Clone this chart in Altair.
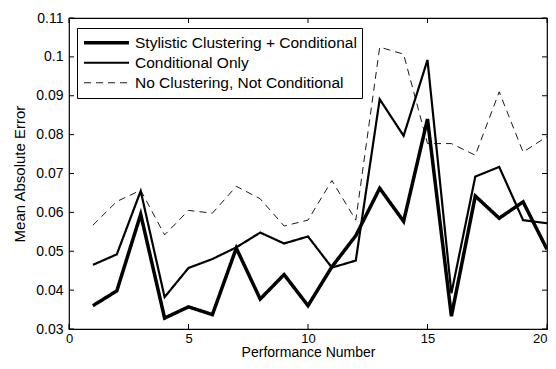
import altair as alt
import pandas as pd

performance = list(range(1, 21))
stylistic = [0.0360, 0.0398, 0.0595, 0.0328, 0.0357, 0.0337, 0.0508, 0.0377, 0.0440, 0.0360,
             0.0460, 0.0540, 0.0662, 0.0577, 0.0840, 0.0333, 0.0642, 0.0585, 0.0627, 0.0505]
conditional = [0.0465, 0.0492, 0.0655, 0.0382, 0.0457, 0.0480, 0.0510, 0.0548, 0.0520, 0.0538,
               0.0458, 0.0476, 0.0891, 0.0797, 0.0992, 0.0392, 0.0692, 0.0717, 0.0580, 0.0572]
no_cluster = [0.0567, 0.0628, 0.0657, 0.0542, 0.0605, 0.0598, 0.0667, 0.0635, 0.0565, 0.0580,
              0.0682, 0.0580, 0.1025, 0.1007, 0.0777, 0.0777, 0.0747, 0.0910, 0.0755, 0.0795]

series_names = ["Stylistic Clustering + Conditional", "Conditional Only", "No Clustering, Not Conditional"]
x_ticks = [0, 5, 10, 15, 20]
y_ticks = [0.03, 0.04, 0.05, 0.06, 0.07, 0.08, 0.09, 0.10, 0.11]

rows = []
for name, vals in zip(series_names, [stylistic, conditional, no_cluster]):
    for p, v in zip(performance, vals):
        rows.append({"series": name, "perf": p, "mae": v})
df = pd.DataFrame(rows)

W, H = 478, 311
FONT = "Liberation Sans"

xscale = alt.Scale(domain=[0, 20], nice=False, zero=False)
yscale = alt.Scale(domain=[0.03, 0.11], nice=False, zero=False)

xaxis = alt.Axis(title="Performance Number", values=x_ticks, ticks=False, grid=False,
                 domain=False, labelPadding=3, labelOverlap=False,
                 labelFlush=False, labelBound=False, labelFontSize=13,
                 labelAlign=alt.ExprRef("datum.value == 20 ? 'right' : 'center'"),
                 titleY=30, titleBaseline="bottom", titleFontSize=14)
yaxis = alt.Axis(title="Mean Absolute Error", values=y_ticks, format=".2~f", ticks=False,
                 grid=False, domain=False, labelPadding=6, titlePadding=8,
                 labelOverlap=False, labelBound=False, labelFlush=False)

lines = alt.Chart(df).mark_line(clip=True).encode(
    x=alt.X("perf:Q", scale=xscale, axis=xaxis),
    y=alt.Y("mae:Q", scale=yscale, axis=yaxis),
    color=alt.Color("series:N", sort=series_names,
                    scale=alt.Scale(domain=series_names, range=["black", "black", "black"]),
                    legend=alt.Legend(title=None, orient="none", legendX=8, legendY=10,
                                      symbolType="stroke", symbolSize=2025, clipHeight=19.5,
                                      labelFont=FONT, labelFontSize=15.5, labelColor="black",
                                      labelLimit=0,
                                      strokeColor="black", fillColor="white", padding=5,
                                      rowPadding=0, symbolOffset=0)),
    strokeWidth=alt.StrokeWidth("series:N", sort=series_names,
                                scale=alt.Scale(domain=series_names, range=[3.5, 0.9, 0.9]), legend=None),
    strokeDash=alt.StrokeDash("series:N", sort=series_names,
                              scale=alt.Scale(domain=series_names, range=[[1, 0], [1, 0], [7, 5]]),
                              legend=None),
)

xt = pd.DataFrame({"perf": x_ticks})
yt = pd.DataFrame({"mae": y_ticks})
TL = 5
tick_b = alt.Chart(xt).mark_rule(color="black").encode(
    x=alt.X("perf:Q", scale=xscale, axis=xaxis), y=alt.value(H), y2=alt.value(H - TL))
tick_t = alt.Chart(xt).mark_rule(color="black").encode(
    x=alt.X("perf:Q", scale=xscale, axis=xaxis), y=alt.value(0), y2=alt.value(TL))
tick_l = alt.Chart(yt).mark_rule(color="black").encode(
    y=alt.Y("mae:Q", scale=yscale, axis=yaxis), x=alt.value(0), x2=alt.value(TL))
tick_r = alt.Chart(yt).mark_rule(color="black").encode(
    y=alt.Y("mae:Q", scale=yscale, axis=yaxis), x=alt.value(W), x2=alt.value(W - TL))

chart = alt.layer(lines, tick_b, tick_t, tick_l, tick_r).properties(
    width=W, height=H,
    autosize=alt.AutoSizeParams(type="none"),
    padding={"left": 61, "top": 10, "right": 1, "bottom": 31},
    background="white",
).configure_view(stroke="black", strokeWidth=1.2).configure_axis(
    labelFont=FONT, labelFontSize=14, labelColor="black",
    titleFont=FONT, titleFontSize=15, titleColor="black", titleFontWeight="normal",
)

chart.save("out.html", embed_options={"renderer": "svg", "actions": False})
